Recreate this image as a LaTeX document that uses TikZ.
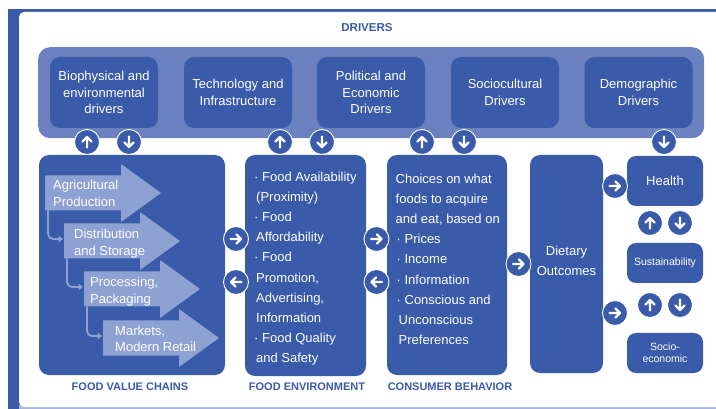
\documentclass[tikz,border=0pt]{standalone}
\usepackage{fontspec}
\setmainfont{Liberation Sans}
\usetikzlibrary{arrows.meta}
\definecolor{dkblue}{HTML}{3A5BA9}
\definecolor{panelblue}{HTML}{6B81BF}
\definecolor{stepblue}{HTML}{8EA1D3}
\definecolor{rimblue}{HTML}{A7B5DF}

\tikzset{
  drvbox/.style={fill=dkblue, rounded corners=10pt, minimum width=108pt, minimum height=71pt,
    text=white, align=center, font=\fontsize{13}{16.4}\selectfont, inner sep=0pt},
  bigbox/.style={fill=dkblue, rounded corners=10pt, inner sep=0pt},
  boxtext/.style={text=white, align=left, inner sep=0pt, anchor=north west,
    font=\fontsize{13}{20.2}\selectfont},
  steptext/.style={text=white, align=left, inner sep=0pt, anchor=west,
    font=\fontsize{13}{16.5}\selectfont},
  colhead/.style={text=dkblue, font=\fontsize{11}{12}\selectfont\bfseries, inner sep=0pt},
  badge/.style={circle, fill=dkblue, draw=white, line width=0.9pt, minimum size=25pt, inner sep=0pt},
  glyph/.style={white, line width=2.3pt, line cap=round, line join=round},
  pics/uparrow/.style={code={\draw[glyph] (0pt,-5.5pt) -- (0pt,5pt) (-4.6pt,0.4pt) -- (0pt,5pt) -- (4.6pt,0.4pt);}},
  flow/.style={draw=stepblue, line width=1.8pt, rounded corners=5pt,
    -{Triangle[length=4.5pt,width=6.5pt]}},
}

% badge: name, x, y, rotation (0 up, 180 down, -90 right, 90 left)
\newcommand\badgeat[4]{%
  \node[badge] (#1) at (#2,#3) {};
  \pic[rotate=#4] at (#1) {uparrow};
}
% value-chain step: name, left x, centre y
\newcommand\chainstep[3]{%
  \coordinate (#1) at (#2,#3);
  \fill[stepblue] (#2,#3-17.5) -- ++(76,0) -- ++(0,-11.5) -- ++(40,29)
    -- ++(-40,29) -- ++(0,-11.5) -- ++(-76,0) -- cycle;
}

\begin{document}
\begin{tikzpicture}[x=1pt,y=-1pt]
\useasboundingbox (0,0) rectangle (716,409);

% frame
\fill[dkblue] (8,9) rectangle (716,409);
\fill[rimblue] (19,405) rectangle (716,409);
\fill[white, rounded corners=5pt] (19,12) rectangle (730,407);

% drivers
\node[colhead, font=\fontsize{11.5}{13}\selectfont\bfseries] (drvtitle) at (367,28) {DRIVERS};
\node[fill=panelblue, rounded corners=12pt, minimum width=666pt, minimum height=91pt,
  inner sep=0pt, anchor=north west] (drivers) at (38,47) {};

\node[drvbox] (bio)  at (104,92.5)   {Biophysical and\\environmental\\drivers};
\node[drvbox] (tech) at (238,92.5)   {Technology and\\Infrastructure};
\node[drvbox] (pol)  at (371,92.5)   {Political and\\Economic\\Drivers};
\node[drvbox] (soc)  at (505,92.5)   {Sociocultural\\Drivers};
\node[drvbox] (dem)  at (638.5,92.5) {Demographic\\Drivers};

% main columns
\node[bigbox, minimum width=186pt, minimum height=220pt] (fvc) at (132,265) {};
\node[bigbox, minimum width=121pt, minimum height=221pt] (fenv) at (305.5,265.5) {};
\node[bigbox, minimum width=120pt, minimum height=220pt] (cons) at (447,265) {};
\node[bigbox, minimum width=73pt, minimum height=218pt] (diet) at (566.5,264) {};
\node[text=white, align=center, inner sep=0pt, font=\fontsize{13}{20}\selectfont]
  (diettext) at (566.5,261) {Dietary\\Outcomes};
\node[bigbox, rounded corners=9pt, minimum width=76pt, minimum height=50pt, text=white,
  font=\fontsize{13}{16}\selectfont] (health) at (665,181) {Health};
\node[bigbox, rounded corners=9pt, minimum width=76pt, minimum height=40pt, text=white,
  font=\fontsize{10.5}{12}\selectfont] (sust) at (665,263) {Sustainability};
\node[bigbox, rounded corners=9pt, minimum width=76pt, minimum height=40pt, text=white,
  align=center, font=\fontsize{10.5}{12.3}\selectfont] (socio) at (665,353) {Socio-\\economic};

% value chain steps
\chainstep{s1}{45}{193}
\chainstep{s2}{64}{241}
\chainstep{s3}{84}{289}
\chainstep{s4}{103}{338}
\node[steptext] (t1) at (53,193.5)  {Agricultural\\Production};
\node[steptext] (t2) at (74,243.5)  {Distribution\\and Storage};
\node[steptext] (t3) at (90,291.5)  {Processing,\\Packaging};
\node[steptext] (t4) at (115,339)   {Markets,\\Modern Retail};

\coordinate (f1a) at (48,210.5);  \coordinate (f1b) at (63,239);
\coordinate (f2a) at (67,258.5);  \coordinate (f2b) at (83,287);
\coordinate (f3a) at (87,306.5);  \coordinate (f3b) at (102,336);
\draw[flow] (f1a) |- (f1b);
\draw[flow] (f2a) |- (f2b);
\draw[flow] (f3a) |- (f3b);

% food environment and consumer behaviour texts
\node[boxtext] (fenvtext) at (254,171.5) {%
  ·\ Food Availability\\
  \hspace*{2pt}(Proximity)\\
  ·\ Food\\
  \hspace*{2pt}Affordability\\
  ·\ Food\\
  \hspace*{2pt}Promotion,\\
  \hspace*{2pt}Advertising,\\
  \hspace*{2pt}Information\\
  ·\ Food Quality\\
  \hspace*{2pt}and Safety};
\node[boxtext] (constext) at (395.5,173.5) {%
  Choices on what\\
  foods to acquire\\
  and eat, based on\\
  \hspace*{1pt}·\ Prices\\
  \hspace*{1pt}·\ Income\\
  \hspace*{1pt}·\ Information\\
  \hspace*{1pt}·\ Conscious and\\
  \hspace*{3pt}Unconscious\\
  \hspace*{3pt}Preferences};

% column headings
\node[colhead] (h1) at (130,387) {FOOD VALUE CHAINS};
\node[colhead] (h2) at (307,387) {FOOD ENVIRONMENT};
\node[colhead] (h3) at (450,387) {CONSUMER BEHAVIOR};

% arrow badges
\badgeat{b1}{87}{142}{0}
\badgeat{b2}{129}{142}{180}
\badgeat{b3}{280}{142}{0}
\badgeat{b4}{322}{142}{180}
\badgeat{b5}{422}{142}{0}
\badgeat{b6}{464}{142}{180}
\badgeat{b7}{664}{142}{180}
\badgeat{b8}{236}{239}{-90}
\badgeat{b9}{236}{282}{90}
\badgeat{b10}{376.5}{239}{-90}
\badgeat{b11}{376.5}{282}{90}
\badgeat{b12}{518.5}{264}{-90}
\badgeat{b13}{615}{186}{-90}
\badgeat{b14}{615}{313}{-90}
\badgeat{b15}{650}{223}{0}
\badgeat{b16}{680}{223}{180}
\badgeat{b17}{650}{305}{0}
\badgeat{b18}{680}{305}{180}
\end{tikzpicture}
\end{document}
